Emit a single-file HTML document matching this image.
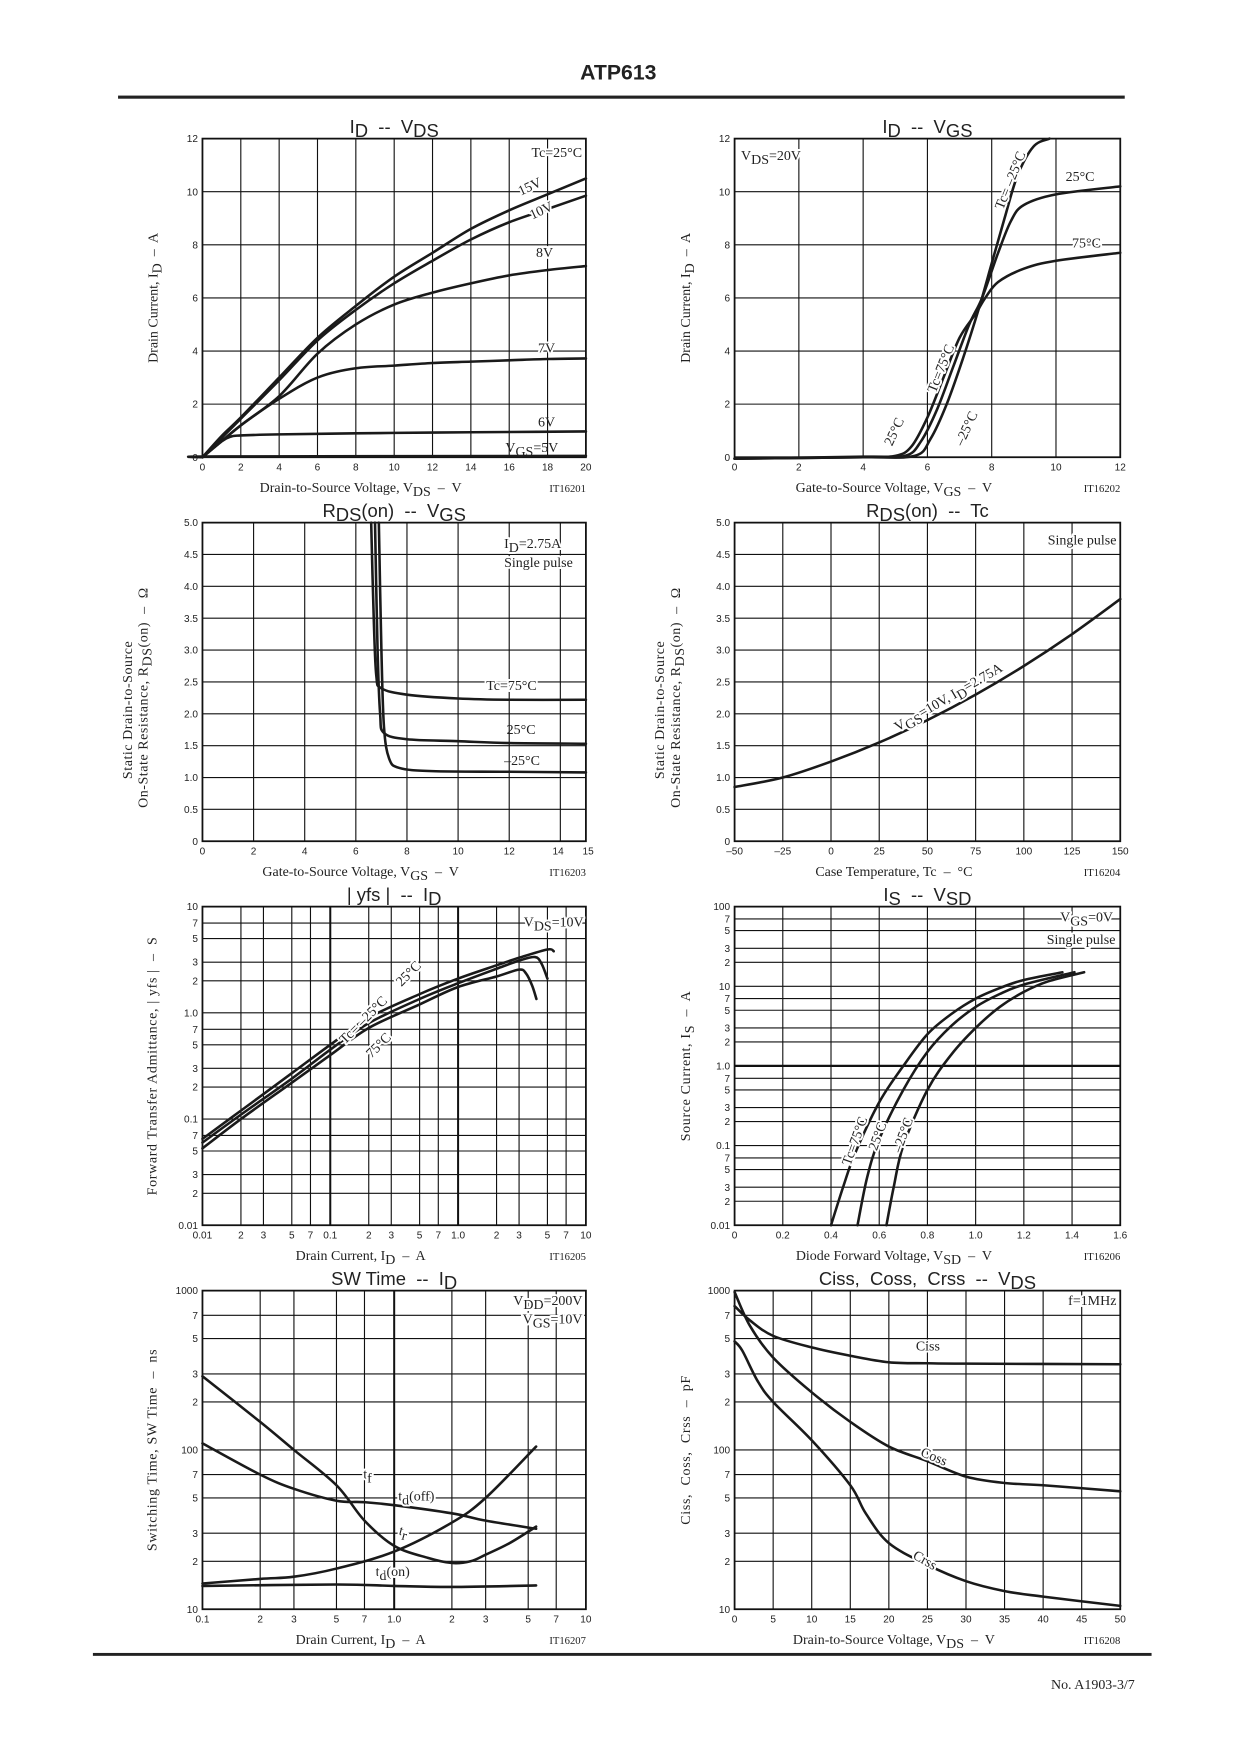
<!DOCTYPE html>
<html><head><meta charset="utf-8"><title>ATP613 characteristics</title>
<style>
html,body{margin:0;padding:0;background:#fff;}
svg{display:block;}
text{fill:#222;white-space:pre;}
.tk{font-family:"Liberation Sans",sans-serif;font-size:9px;}
.ser{font-family:"Liberation Serif",serif;}
.hv{font-family:"Liberation Sans",sans-serif;}
</style></head>
<body>
<svg id="page" width="1240" height="1754" viewBox="0 0 1109 1569" xmlns="http://www.w3.org/2000/svg">
<text x="553" y="71" text-anchor="middle" class="hv" font-size="19" font-weight="bold" fill="#222">ATP613</text>
<rect x="105.5" y="85.5" width="900.5" height="2.8" fill="#222"/>
<rect x="83" y="1478.6" width="947" height="2.6" fill="#222"/>
<text x="1015" y="1511" text-anchor="end" class="ser" font-size="12.5">No. A1903-3/7</text>
<g id="charts"></g>
</svg>
<script>
// ---------- data ----------
// Chart 1: ID - VDS
const c1Vds15 = [0,1,2,4,6,8,10,12,14,16,18,20];
const c1Id15  = [0,0.8,1.5,3.0,4.5,5.7,6.8,7.7,8.6,9.3,9.9,10.5];
const c1Vds10 = [0,2,4,6,8,10,12,14,16,18,20];
const c1Id10  = [0,1.45,2.9,4.4,5.55,6.55,7.4,8.2,8.85,9.35,9.85];
const c1Vds8  = [0,2,4,6,8,10,12,14,16,18,20];
const c1Id8   = [0,1.2,2.3,3.9,5.0,5.75,6.2,6.55,6.85,7.05,7.2];
const c1Vds7  = [0,1,2,4,6,8,10,12,14,16,18,20];
const c1Id7   = [0,0.6,1.2,2.2,3.0,3.35,3.45,3.55,3.6,3.65,3.7,3.72];
const c1Vds6  = [0,1,1.5,2,4,8,12,16,20];
const c1Id6   = [0,0.6,0.78,0.82,0.86,0.9,0.93,0.95,0.97];
const c1Vds5  = [0,1,20];
const c1Id5   = [0,0.03,0.05];
const c1XTicks = [0,2,4,6,8,10,12,14,16,18,20];
const c1YTicks = [0,2,4,6,8,10,12];
// Chart 2: ID - VGS
const c2VgsM25 = [0,4,5.6,6.1,6.6,7.1,7.6,8.0,8.4,8.8,9.3,9.8];
const c2IdM25  = [-0.05,0,0.05,0.7,2.0,3.7,5.6,7.3,9.0,10.6,11.7,12.0];
const c2Vgs25  = [0,4,5.3,5.8,6.3,6.8,7.3,7.7,8.2,8.6,9,10,12];
const c2Id25   = [-0.05,0,0.05,0.6,1.8,3.4,5.0,6.0,7.7,8.9,9.5,9.9,10.2];
const c2Vgs75  = [0,4,5.0,5.5,6.0,6.5,7.0,7.5,7.8,8.2,9,10,12];
const c2Id75   = [-0.05,0.02,0.05,0.4,1.5,3.0,4.5,5.4,6.0,6.6,7.1,7.4,7.7];
const c2XTicks = [0,2,4,6,8,10,12];
const c2YTicks = [0,2,4,6,8,10,12];
// Chart 3: RDS(on) - VGS
const c3Vgs75  = [6.6,6.7,6.8,7.0,8,10,12,15];
const c3R75    = [5,3.5,2.6,2.4,2.3,2.24,2.22,2.22];
const c3Vgs25  = [6.75,6.85,6.95,7.1,8,10,12,15];
const c3R25    = [5,3.0,2.0,1.7,1.6,1.57,1.54,1.53];
const c3VgsM25 = [6.9,7.0,7.1,7.3,7.7,9,12,15];
const c3RM25   = [5,3.0,1.8,1.3,1.15,1.1,1.09,1.08];
const c3XTicks = [0,2,4,6,8,10,12,14,15];
const c3YTicks = [0,0.5,1.0,1.5,2.0,2.5,3.0,3.5,4.0,4.5,5.0];
// Chart 4: RDS(on) - Tc
const c4Tc = [-50,-25,0,25,50,75,100,125,150];
const c4R  = [0.85,1.0,1.25,1.55,1.9,2.3,2.75,3.25,3.8];
const c4XTicks = [-50,-25,0,25,50,75,100,125,150];
const c4YTicks = [0,0.5,1.0,1.5,2.0,2.5,3.0,3.5,4.0,4.5,5.0];
// Chart 5: |yfs| - ID
const c5IdM25 = [0.01,0.02,0.05,0.1,0.2,0.5,1,2,3,5,5.6];
const c5YM25  = [0.065,0.12,0.27,0.5,0.9,1.5,2.1,2.8,3.3,3.95,3.8];
const c5Id25  = [0.01,0.02,0.05,0.1,0.2,0.5,1,2,3,4,4.5,5];
const c5Y25   = [0.06,0.11,0.24,0.45,0.8,1.35,1.9,2.6,3.1,3.35,2.9,2.1];
const c5Id75  = [0.01,0.02,0.05,0.1,0.2,0.5,1,2,3,3.4,3.8,4.1];
const c5Y75   = [0.053,0.1,0.22,0.4,0.72,1.2,1.75,2.2,2.55,2.35,1.8,1.35];
const c5XTickVals = [0.01,0.02,0.03,0.05,0.07,0.1,0.2,0.3,0.5,0.7,1,2,3,5,7,10];
const c5XTickLbls = ["0.01","2","3","5","7","0.1","2","3","5","7","1.0","2","3","5","7","10"];
const c5YTickVals = [0.01,0.02,0.03,0.05,0.07,0.1,0.2,0.3,0.5,0.7,1,2,3,5,7,10];
const c5YTickLbls = ["0.01","2","3","5","7","0.1","2","3","5","7","1.0","2","3","5","7","10"];
// Chart 6: IS - VSD
const c6V75  = [0.40,0.45,0.5,0.6,0.7,0.8,0.9,1.0,1.1,1.2,1.36];
const c6I75  = [0.01,0.03,0.08,0.35,1.0,2.5,4.5,7,9.5,12,15];
const c6V25  = [0.51,0.55,0.6,0.7,0.8,0.9,1.0,1.1,1.2,1.41];
const c6I25  = [0.01,0.04,0.12,0.5,1.5,3.2,5.5,8,10.5,15];
const c6VM25 = [0.63,0.66,0.7,0.8,0.9,1.0,1.1,1.2,1.3,1.45];
const c6IM25 = [0.01,0.03,0.1,0.5,1.4,3,5.5,8.5,11.5,15];
const c6XTicks = [0,0.2,0.4,0.6,0.8,1.0,1.2,1.4,1.6];
const c6XTickLbls = ["0","0.2","0.4","0.6","0.8","1.0","1.2","1.4","1.6"];
const c6YTickVals = [0.01,0.02,0.03,0.05,0.07,0.1,0.2,0.3,0.5,0.7,1,2,3,5,7,10,20,30,50,70,100];
const c6YTickLbls = ["0.01","2","3","5","7","0.1","2","3","5","7","1.0","2","3","5","7","10","2","3","5","7","100"];
// Chart 7: SW Time - ID
const c7IdTf   = [0.1,0.2,0.3,0.5,0.7,1.0,1.5,2,2.5,3,4,5.5];
const c7Tf     = [290,150,100,60,36,25,21,19.5,20,22,26,33];
const c7IdToff = [0.1,0.2,0.3,0.5,0.7,1,2,3,5.5];
const c7Toff   = [110,70,57,48,47,45,40,36,32];
const c7IdTr   = [0.1,0.2,0.3,0.5,1,2,3,5.5];
const c7Tr     = [14.5,15.5,16,18,23,35,50,105];
const c7IdTon  = [0.1,0.5,1,2,5.5];
const c7Ton    = [14,14.3,14,13.8,14.1];
const c7XTickVals = [0.1,0.2,0.3,0.5,0.7,1,2,3,5,7,10];
const c7XTickLbls = ["0.1","2","3","5","7","1.0","2","3","5","7","10"];
const c7YTickVals = [10,20,30,50,70,100,200,300,500,700,1000];
const c7YTickLbls = ["10","2","3","5","7","100","2","3","5","7","1000"];
// Chart 8: Ciss, Coss, Crss - VDS
const c8VCiss = [0,2,5,10,15,20,25,30,50];
const c8Ciss  = [800,650,520,440,390,355,350,348,345];
const c8VCoss = [0,2,5,10,15,20,25,30,35,40,50];
const c8Coss  = [980,600,380,230,150,105,85,68,62,60,55];
const c8VCrss = [0,1,3,5,10,15,17,20,25,30,35,40,50];
const c8Crss  = [480,420,270,200,115,60,40,26,19,15,13,12,10.5];
const c8XTicks = [0,5,10,15,20,25,30,35,40,45,50];
const c8YTickVals = [10,20,30,50,70,100,200,300,500,700,1000];
const c8YTickLbls = ["10","2","3","5","7","100","2","3","5","7","1000"];

// ---------- helpers ----------
const NS = "http://www.w3.org/2000/svg";
const root = document.getElementById("charts");
function mk(tag, attrs, parent){
  const e = document.createElementNS(NS, tag);
  for (const k in attrs) e.setAttribute(k, attrs[k]);
  (parent||root).appendChild(e);
  return e;
}
function linScale(min,max,p0,p1){ return v => p0 + (v-min)/(max-min)*(p1-p0); }
function logScale(min,max,p0,p1){ const a=Math.log10(min), b=Math.log10(max); return v => p0 + (Math.log10(v)-a)/(b-a)*(p1-p0); }
function smoothPath(pts){
  let d = "M"+pts[0][0].toFixed(2)+","+pts[0][1].toFixed(2);
  for (let i=0;i<pts.length-1;i++){
    const p0=pts[Math.max(0,i-1)], p1=pts[i], p2=pts[i+1], p3=pts[Math.min(pts.length-1,i+2)];
    const c1=[p1[0]+(p2[0]-p0[0])/6, p1[1]+(p2[1]-p0[1])/6];
    const c2=[p2[0]-(p3[0]-p1[0])/6, p2[1]-(p3[1]-p1[1])/6];
    d += " C"+c1[0].toFixed(2)+","+c1[1].toFixed(2)+" "+c2[0].toFixed(2)+","+c2[1].toFixed(2)+" "+p2[0].toFixed(2)+","+p2[1].toFixed(2);
  }
  return d;
}
function curve(g, sx, sy, xs, ys, name){
  const pts = xs.map((x,i)=>[sx(x), sy(ys[i])]);
  const p = mk("path", {d: smoothPath(pts), fill:"none", stroke:"#1a1a1a", "stroke-width":"2.3", "stroke-linejoin":"round", "stroke-linecap":"round"}, g);
  
  
  return p;
}
function label(g, x, y, html, opts){
  opts = opts||{};
  const t = mk("text", {x:x, y:y, class:"ser", "font-size": opts.size||12.5, "text-anchor": opts.anchor||"start",
    stroke: opts.nobg ? "none" : "#fff", "stroke-width": opts.nobg ? 0 : 3.5, "paint-order":"stroke", "stroke-linejoin":"round"}, g);
  if (opts.rot) t.setAttribute("transform", "rotate("+opts.rot+" "+x+" "+y+")");
  t.innerHTML = html;
  
  
  return t;
}
const SUB = s => '<tspan baseline-shift="-3.5">'+s+'</tspan>';

function frame(name){
  const g = mk("g", {});
  
  
  return g;
}
function gridV(g, px, y0, h, sw, name){
  const l = mk("line", {x1:px, x2:px, y1:y0, y2:y0+h, stroke:"#111", "stroke-width":sw||1}, g);
  
  
}
function gridH(g, py, x0, w, sw, name){
  const l = mk("line", {x1:x0, x2:x0+w, y1:py, y2:py, stroke:"#111", "stroke-width":sw||1}, g);
  
  
}
function border(g, x0, y0, w, h){
  const r = mk("rect", {x:x0, y:y0, width:w, height:h, fill:"none", stroke:"#111", "stroke-width":1.6}, g);
  
  
}
function xTick(g, px, y, txt){
  const t = mk("text", {x:px, y:y+12, class:"tk", "text-anchor":"middle"}, g);
  t.textContent = txt;
  
  
}
function yTick(g, x, py, txt){
  const t = mk("text", {x:x-4, y:py+3.2, class:"tk", "text-anchor":"end"}, g);
  t.textContent = txt;
  
  
}
function titles(g, x0, y0, w, h, title, xt, code, ytLines, ytx){
  const t = mk("text", {x:x0+w/2, y:y0-5, class:"hv", "font-size":16.5, "text-anchor":"middle"}, g);
  t.innerHTML = title;
  
  
  const xa = mk("text", {x:x0+w/2-30, y:y0+h+31, class:"ser", "font-size":12.5, "text-anchor":"middle"}, g);
  xa.innerHTML = xt;
  
  
  const c = mk("text", {x:x0+w, y:y0+h+31, class:"ser", "font-size":9.5, "text-anchor":"end"}, g);
  c.textContent = code;
  
  
  ytLines.forEach((ln,i)=>{
    const xx = ytx[i], yy = y0+h/2 + (ln.dy||0);
    const ya = mk("text", {x:xx, y:yy, class:"ser", "font-size":12.5, "text-anchor":"middle", "letter-spacing": ln.ls||0, transform:"rotate(-90 "+xx+" "+yy+")"}, g);
    ya.innerHTML = ln.t;
    
    
  });
}

// layout
const LX=181, LW=343, RX=657, RW=345, H=285;
const ROW=[124,467.5,811,1154.5];

// ---------- Chart 1 ----------
(function(){
  const x0=LX,y0=ROW[0],w=LW,h=H;
  const g=frame('chart-id-vds');
  const sx=linScale(0,20,x0,x0+w), sy=linScale(0,12,y0+h,y0);
  c1XTicks.forEach(v=>{ if(v>0&&v<20) gridV(g,sx(v),y0,h); xTick(g,sx(v),y0+h,String(v)); });
  c1YTicks.forEach(v=>{ if(v>0&&v<12) gridH(g,sy(v),x0,w); yTick(g,x0,sy(v),String(v)); });
  border(g,x0,y0,w,h);
  curve(g,sx,sy,c1Vds15,c1Id15,'curve-vgs-15v');
  curve(g,sx,sy,c1Vds10,c1Id10,'curve-vgs-10v');
  curve(g,sx,sy,c1Vds8,c1Id8,'curve-vgs-8v');
  curve(g,sx,sy,c1Vds7,c1Id7,'curve-vgs-7v');
  curve(g,sx,sy,c1Vds6,c1Id6,'curve-vgs-6v');
  curve(g,sx,sy,c1Vds5,c1Id5,'curve-vgs-5v');
  label(g,sx(19.8),sy(11.3),'Tc=25°C',{anchor:'end',name:'temperature-label'});
  label(g,sx(16.6),sy(9.85),'15V',{rot:-25,name:'label-15v'});
  label(g,sx(17.2),sy(8.95),'10V',{rot:-25,name:'label-10v'});
  label(g,sx(17.4),sy(7.55),'8V',{name:'label-8v'});
  label(g,sx(17.5),sy(3.95),'7V',{name:'label-7v'});
  label(g,sx(17.5),sy(1.15),'6V',{name:'label-6v',nobg:true});
  label(g,sx(15.8),sy(0.2),'V'+SUB('GS')+'=5V',{name:'label-5v',nobg:true});
  titles(g,x0,y0,w,h,'I'+SUB('D')+'  --  V'+SUB('DS'),'Drain-to-Source Voltage, V'+SUB('DS')+'  –  V','IT16201',
    [{t:'Drain Current, I'+SUB('D')+'  –  A'}],[141]);
})();

// ---------- Chart 2 ----------
(function(){
  const x0=RX,y0=ROW[0],w=RW,h=H;
  const g=frame('chart-id-vgs');
  const sx=linScale(0,12,x0,x0+w), sy=linScale(0,12,y0+h,y0);
  c2XTicks.forEach(v=>{ if(v>0&&v<12) gridV(g,sx(v),y0,h); xTick(g,sx(v),y0+h,String(v)); });
  c2YTicks.forEach(v=>{ if(v>0&&v<12) gridH(g,sy(v),x0,w); yTick(g,x0,sy(v),String(v)); });
  border(g,x0,y0,w,h);
  curve(g,sx,sy,c2VgsM25,c2IdM25,'curve-tc-minus25');
  curve(g,sx,sy,c2Vgs25,c2Id25,'curve-tc-25');
  curve(g,sx,sy,c2Vgs75,c2Id75,'curve-tc-75');
  label(g,sx(0.2),sy(11.2),'V'+SUB('DS')+'=20V',{name:'vds-condition'});
  label(g,sx(8.35),sy(9.3),'Tc= –25°C',{rot:-68,name:'label-tc-minus25'});
  label(g,sx(10.3),sy(10.4),'25°C',{name:'label-25c',nobg:true});
  label(g,sx(10.5),sy(7.9),'75°C',{name:'label-75c'});
  label(g,sx(6.25),sy(2.4),'Tc=75°C',{rot:-68,name:'label-tc-75'});
  label(g,sx(4.9),sy(0.4),'25°C',{rot:-65,name:'label-25c-low'});
  label(g,sx(7.1),sy(0.4),'–25°C',{rot:-65,name:'label-minus25c-low'});
  titles(g,x0,y0,w,h,'I'+SUB('D')+'  --  V'+SUB('GS'),'Gate-to-Source Voltage, V'+SUB('GS')+'  –  V','IT16202',
    [{t:'Drain Current, I'+SUB('D')+'  –  A'}],[617]);
})();

// ---------- Chart 3 ----------
(function(){
  const x0=LX,y0=ROW[1],w=LW,h=H;
  const g=frame('chart-rds-vgs');
  const sx=linScale(0,15,x0,x0+w), sy=linScale(0,5,y0+h,y0);
  c3XTicks.forEach(v=>{ if(v>0&&v<15) gridV(g,sx(v),y0,h); xTick(g,sx(v)+(v==15?2:(v==14?-2:0)),y0+h,String(v)); });
  c3YTicks.forEach(v=>{ if(v>0&&v<5) gridH(g,sy(v),x0,w); yTick(g,x0,sy(v),v==0?'0':v.toFixed(1)); });
  border(g,x0,y0,w,h);
  curve(g,sx,sy,c3Vgs75,c3R75,'curve-tc-75');
  curve(g,sx,sy,c3Vgs25,c3R25,'curve-tc-25');
  curve(g,sx,sy,c3VgsM25,c3RM25,'curve-tc-minus25');
  label(g,sx(11.8),sy(4.6),'I'+SUB('D')+'=2.75A',{name:'id-condition'});
  label(g,sx(11.8),sy(4.3),'Single pulse',{name:'single-pulse-note'});
  label(g,sx(11.1),sy(2.37),'Tc=75°C',{name:'label-tc-75'});
  label(g,sx(11.9),sy(1.68),'25°C',{name:'label-25c',nobg:true});
  label(g,sx(11.8),sy(1.2),'–25°C',{name:'label-minus25c',nobg:true});
  titles(g,x0,y0,w,h,'R'+SUB('DS')+'(on)  --  V'+SUB('GS'),'Gate-to-Source Voltage, V'+SUB('GS')+'  –  V','IT16203',
    [{t:'Static Drain-to-Source',dy:25,ls:0.5},{t:'On-State Resistance, R'+SUB('DS')+'(on)  –  Ω',dy:14,ls:0.5}],[118,132]);
})();

// ---------- Chart 4 ----------
(function(){
  const x0=RX,y0=ROW[1],w=RW,h=H;
  const g=frame('chart-rds-tc');
  const sx=linScale(-50,150,x0,x0+w), sy=linScale(0,5,y0+h,y0);
  c4XTicks.forEach(v=>{ if(v>-50&&v<150) gridV(g,sx(v),y0,h); xTick(g,sx(v),y0+h,v<0?('–'+(-v)):String(v)); });
  c4YTicks.forEach(v=>{ if(v>0&&v<5) gridH(g,sy(v),x0,w); yTick(g,x0,sy(v),v==0?'0':v.toFixed(1)); });
  border(g,x0,y0,w,h);
  curve(g,sx,sy,c4Tc,c4R,'curve-rds-vs-tc');
  label(g,sx(148),sy(4.66),'Single pulse',{anchor:'end',name:'single-pulse-note'});
  label(g,sx(62),sy(2.2),'V'+SUB('GS')+'=10V, I'+SUB('D')+'=2.75A',{anchor:'middle',rot:-30,name:'condition-label'});
  titles(g,x0,y0,w,h,'R'+SUB('DS')+'(on)  --  Tc','Case Temperature, Tc  –  °C','IT16204',
    [{t:'Static Drain-to-Source',dy:25,ls:0.5},{t:'On-State Resistance, R'+SUB('DS')+'(on)  –  Ω',dy:14,ls:0.5}],[594,608]);
})();

// ---------- Chart 5 ----------
(function(){
  const x0=LX,y0=ROW[2],w=LW,h=H;
  const g=frame('chart-yfs-id');
  const sx=logScale(0.01,10,x0,x0+w), sy=logScale(0.01,10,y0+h,y0);
  c5XTickVals.forEach((v,i)=>{ if(v>0.01&&v<10) gridV(g,sx(v),y0,h,(v==0.1||v==1)?1.8:1); xTick(g,sx(v),y0+h,c5XTickLbls[i]); });
  c5YTickVals.forEach((v,i)=>{ if(v>0.01&&v<10) gridH(g,sy(v),x0,w); yTick(g,x0,sy(v),c5YTickLbls[i]); });
  border(g,x0,y0,w,h);
  curve(g,sx,sy,c5IdM25,c5YM25,'curve-tc-minus25');
  curve(g,sx,sy,c5Id25,c5Y25,'curve-tc-25');
  curve(g,sx,sy,c5Id75,c5Y75,'curve-tc-75');
  label(g,sx(9.6),sy(6.5),'V'+SUB('DS')+'=10V',{anchor:'end',name:'vds-condition'});
  label(g,sx(0.36),sy(1.75),'25°C',{rot:-45,name:'label-25c'});
  label(g,sx(0.13),sy(0.5),'Tc= –25°C',{rot:-45,name:'label-tc-minus25'});
  label(g,sx(0.21),sy(0.37),'75°C',{rot:-45,name:'label-75c'});
  titles(g,x0,y0,w,h,'| yfs |  --  I'+SUB('D'),'Drain Current, I'+SUB('D')+'  –  A','IT16205',
    [{t:'Forward Transfer Admittance, | yfs |  –  S',ls:0.6}],[140]);
})();

// ---------- Chart 6 ----------
(function(){
  const x0=RX,y0=ROW[2],w=RW,h=H;
  const g=frame('chart-is-vsd');
  const sx=linScale(0,1.6,x0,x0+w), sy=logScale(0.01,100,y0+h,y0);
  c6XTicks.forEach((v,i)=>{ if(v>0&&v<1.6) gridV(g,sx(v),y0,h); xTick(g,sx(v),y0+h,c6XTickLbls[i]); });
  c6YTickVals.forEach((v,i)=>{ if(v>0.01&&v<100) gridH(g,sy(v),x0,w,v==1?2:1); yTick(g,x0,sy(v),c6YTickLbls[i]); });
  border(g,x0,y0,w,h);
  curve(g,sx,sy,c6V75,c6I75,'curve-tc-75');
  curve(g,sx,sy,c6V25,c6I25,'curve-tc-25');
  curve(g,sx,sy,c6VM25,c6IM25,'curve-tc-minus25');
  label(g,sx(1.57),sy(65),'V'+SUB('GS')+'=0V',{anchor:'end',name:'vgs-condition'});
  label(g,sx(1.58),sy(34),'Single pulse',{anchor:'end',name:'single-pulse-note'});
  label(g,sx(0.48),sy(0.055),'Tc=75°C',{rot:-70,name:'label-tc-75'});
  label(g,sx(0.59),sy(0.085),'25°C',{rot:-70,name:'label-25c'});
  label(g,sx(0.69),sy(0.08),'–25°C',{rot:-70,name:'label-minus25c'});
  titles(g,x0,y0,w,h,'I'+SUB('S')+'  --  V'+SUB('SD'),'Diode Forward Voltage, V'+SUB('SD')+'  –  V','IT16206',
    [{t:'Source Current, I'+SUB('S')+'  –  A',ls:0.6}],[617]);
})();

// ---------- Chart 7 ----------
(function(){
  const x0=LX,y0=ROW[3],w=LW,h=H;
  const g=frame('chart-sw-time-id');
  const sx=logScale(0.1,10,x0,x0+w), sy=logScale(10,1000,y0+h,y0);
  c7XTickVals.forEach((v,i)=>{ if(v>0.1&&v<10) gridV(g,sx(v),y0,h,v==1?1.8:1); xTick(g,sx(v),y0+h,c7XTickLbls[i]); });
  c7YTickVals.forEach((v,i)=>{ if(v>10&&v<1000) gridH(g,sy(v),x0,w); yTick(g,x0,sy(v),c7YTickLbls[i]); });
  border(g,x0,y0,w,h);
  curve(g,sx,sy,c7IdTf,c7Tf,'curve-tf');
  curve(g,sx,sy,c7IdToff,c7Toff,'curve-td-off');
  curve(g,sx,sy,c7IdTr,c7Tr,'curve-tr');
  curve(g,sx,sy,c7IdTon,c7Ton,'curve-td-on');
  label(g,sx(9.6),sy(810),'V'+SUB('DD')+'=200V',{anchor:'end',name:'vdd-condition'});
  label(g,sx(9.6),sy(620),'V'+SUB('GS')+'=10V',{anchor:'end',name:'vgs-condition'});
  label(g,sx(0.69),sy(66),'t'+SUB('f'),{name:'label-tf'});
  label(g,sx(1.05),sy(48),'t'+SUB('d')+'(off)',{name:'label-td-off'});
  label(g,sx(1.05),sy(29.5),'t'+SUB('r'),{name:'label-tr',rot:15});
  label(g,sx(0.8),sy(16.2),'t'+SUB('d')+'(on)',{name:'label-td-on'});
  titles(g,x0,y0,w,h,'SW Time  --  I'+SUB('D'),'Drain Current, I'+SUB('D')+'  –  A','IT16207',
    [{t:'Switching Time, SW Time  –  ns',ls:0.6}],[140]);
})();

// ---------- Chart 8 ----------
(function(){
  const x0=RX,y0=ROW[3],w=RW,h=H;
  const g=frame('chart-capacitance-vds');
  const sx=linScale(0,50,x0,x0+w), sy=logScale(10,1000,y0+h,y0);
  c8XTicks.forEach(v=>{ if(v>0&&v<50) gridV(g,sx(v),y0,h); xTick(g,sx(v),y0+h,String(v)); });
  c8YTickVals.forEach((v,i)=>{ if(v>10&&v<1000) gridH(g,sy(v),x0,w); yTick(g,x0,sy(v),c8YTickLbls[i]); });
  border(g,x0,y0,w,h);
  curve(g,sx,sy,c8VCiss,c8Ciss,'curve-ciss');
  curve(g,sx,sy,c8VCoss,c8Coss,'curve-coss');
  curve(g,sx,sy,c8VCrss,c8Crss,'curve-crss');
  label(g,sx(49.5),sy(810),'f=1MHz',{anchor:'end',name:'frequency-condition'});
  label(g,sx(23.5),sy(420),'Ciss',{name:'label-ciss'});
  label(g,sx(24),sy(92),'Coss',{rot:22,name:'label-coss'});
  label(g,sx(23),sy(21),'Crss',{rot:30,name:'label-crss'});
  titles(g,x0,y0,w,h,'Ciss,  Coss,  Crss  --  V'+SUB('DS'),'Drain-to-Source Voltage, V'+SUB('DS')+'  –  V','IT16208',
    [{t:'Ciss,  Coss,  Crss  –  pF',ls:0.6}],[617]);
})();
</script>
</body></html>
